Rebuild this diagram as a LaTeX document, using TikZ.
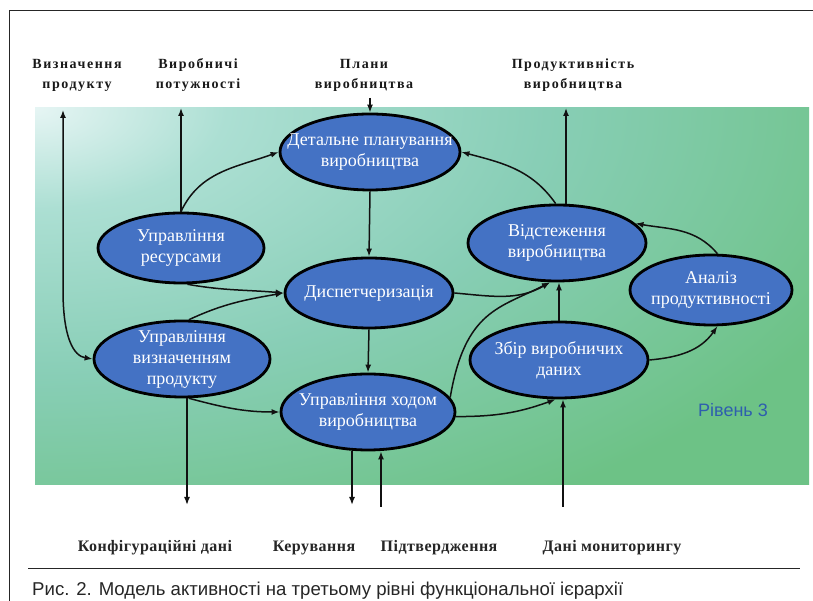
\documentclass[tikz,border=0pt]{standalone}
\usepackage{fontspec}
\setmainfont{Liberation Serif}
\newfontfamily\lblfont[LetterSpace=11]{Liberation Serif}
\newfontfamily\botfont[LetterSpace=3]{Liberation Serif}
\newfontfamily\capfont{Liberation Sans}
\usetikzlibrary{shapes.geometric,arrows.meta}
\definecolor{ellfill}{HTML}{4472C4}
\definecolor{bgA}{HTML}{E6F5F4}
\definecolor{bgB}{HTML}{ACDFD3}
\definecolor{bgC}{HTML}{88CEB6}
\definecolor{bgD}{HTML}{6DC286}
\definecolor{lvl}{HTML}{2E5EAE}
\definecolor{ink}{HTML}{111111}
\pgfdeclareradialshading{bgshade}{\pgfpoint{0bp}{0bp}}{color(0bp)=(bgA); color(3bp)=(bgB); color(8bp)=(bgC); color(14bp)=(bgD); color(50bp)=(bgD)}
\tikzset{
  proc/.style={ellipse, draw=black, line width=2.8pt, fill=ellfill, inner sep=0pt},
  ptxt/.style={text=white, font=\fontsize{18}{21}\selectfont, align=center, inner sep=0pt},
  arr/.style={-{Latex[length=8pt,width=6pt]}, line width=1.5pt, draw=ink},
  dbl/.style={{Latex[length=8pt,width=6pt]}-{Latex[length=8pt,width=6pt]}, line width=1.5pt, draw=ink},
  toplbl/.style={font=\lblfont\bfseries\fontsize{14}{20}\selectfont, align=center, text=black!90, inner sep=0pt, anchor=base},
  botlbl/.style={font=\botfont\bfseries\fontsize{16}{20}\selectfont, text=black!85, inner sep=0pt, anchor=base},
}
\begin{document}
\begin{tikzpicture}[x=1pt,y=1pt]
\useasboundingbox (0,0) rectangle (813,601);
\fill[white] (0,0) rectangle (813,601);
% frame
\draw[line width=1pt, black!85] (9,0) -- (9,590) -- (813,590);
\draw[line width=1pt, black!85] (28,32) -- (800,32);
% background
\begin{scope}
\clip (35,116) rectangle (809,493);
\shade[shading=bgshade] (35,493) ellipse [x radius=1600, y radius=840];
\end{scope}
% processes
\node[proc, minimum width=180pt, minimum height=76pt] (det) at (370,449) {};
\node[proc, minimum width=166pt, minimum height=70pt] (res) at (181,353) {};
\node[proc, minimum width=168pt, minimum height=70pt] (disp) at (369,308) {};
\node[proc, minimum width=176pt, minimum height=76pt] (vyz) at (182,242) {};
\node[proc, minimum width=174pt, minimum height=76pt] (khid) at (368,189) {};
\node[proc, minimum width=178pt, minimum height=76pt] (vid) at (557,358) {};
\node[proc, minimum width=162pt, minimum height=70pt] (anal) at (711,311) {};
\node[proc, minimum width=178pt, minimum height=76pt] (zbir) at (559,241) {};
\node[ptxt] (detT) at (det) {Детальне планування\\виробництва};
\node[ptxt] (resT) at (res) {Управління\\ресурсами};
\node[ptxt] (dispT) at (disp) {Диспетчеризація};
\node[ptxt] (vyzT) at (vyz) {Управління\\визначенням\\продукту};
\node[ptxt] (khidT) at (khid) {Управління ходом\\виробництва};
\node[ptxt] (vidT) at (vid) {Відстеження\\виробництва};
\node[ptxt] (analT) at (anal) {Аналіз\\продуктивності};
\node[ptxt] (zbirT) at (zbir) {Збір виробничих\\даних};
\node[text=lvl, font=\capfont\fontsize{18}{20}\selectfont, inner sep=0pt] (lev) at (733,191) {Рівень 3};
% labels (base = last line)
\node[toplbl] (lVyz) at (77,512) {Визначення\\продукту};
\node[toplbl] (lPot) at (198,512) {Виробничі\\потужності};
\node[toplbl] (lPlan) at (364,512) {Плани\\виробництва};
\node[toplbl] (lProd) at (573,512) {Продуктивність\\виробництва};
\node[botlbl] (lKonf) at (155,49) {Конфігураційні дані};
\node[botlbl] (lKer) at (314,49) {Керування};
\node[botlbl] (lPidt) at (439,49) {Підтвердження};
\node[botlbl] (lMon) at (612,49) {Дані мониторингу};
\node[font=\capfont\fontsize{18.6}{20}\selectfont, anchor=base west, inner sep=0pt, text=black!85] (cap) at (32,5) {Рис. 2. Модель активності на третьому рівні функціональної ієрархії};
% free ends
\coordinate (vyzTop) at (63,491);
\coordinate (potTop) at (181,493);
\coordinate (planTop) at (370,503);
\coordinate (prodTop) at (566,493);
\coordinate (konf) at (187,96);
\coordinate (ker) at (352,96);
\coordinate (pidt) at (381,94);
\coordinate (mon) at (563,94);
% connectors
\draw[dbl] (vyzTop) -- (63,311) .. controls (63,262) and (74,245) .. (vyz.west);
\draw[arr] (res.north) -- (potTop);
\draw[arr] (res.north) to[out=65,in=200] (det.west);
\draw[arr] (planTop) -- (det.north);
\draw[arr] (det.south) -- (disp.north);
\draw[arr] (disp.south) -- (khid.north);
\draw[arr] (res.-80) to[out=-10,in=175] (disp.west);
\draw[arr] (vyz.80) to[out=25,in=190] (disp.west);
\draw[arr] (vyz.-80) to[out=-15,in=180] (khid.west);
\draw[arr] (konf |- vyz.south) -- (konf);
\draw[arr] (ker |- khid.south) -- (ker);
\draw[arr] (pidt) -- (pidt |- khid.south);
\draw[arr] (mon) -- (mon |- zbir.south);
\draw[arr] (zbir.north) -- (zbir.north |- vid.south);
\draw[arr] (disp.east) to[out=-5,in=-150] (vid.-100);
\draw[arr] (khid.10) .. controls (465,291) and (500,293) .. (vid.-100);
\draw[arr] (khid.-3) to[out=0,in=-160] (zbir.-95);
\draw[arr] (zbir.east) to[out=5,in=-125] (anal.-80);
\draw[arr] (anal.80) to[out=130,in=-10] (vid.14);
\draw[arr] (prodTop |- vid.north) -- (prodTop);
\draw[arr] (vid.92) to[out=125,in=-15] (det.east);
\end{tikzpicture}
\end{document}
